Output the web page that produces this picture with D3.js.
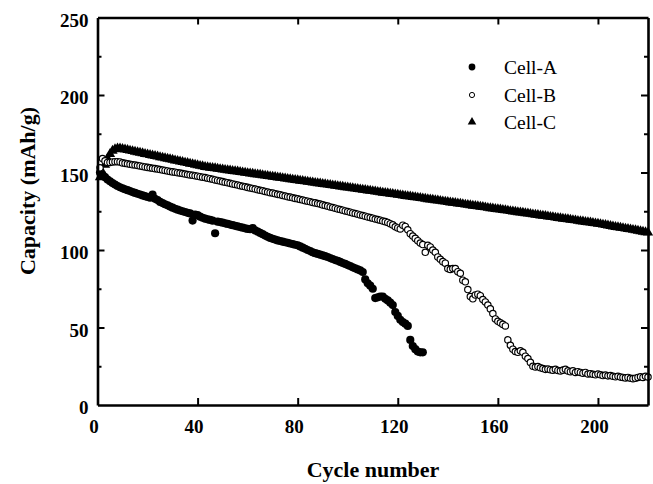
<!DOCTYPE html>
<html><head><meta charset="utf-8">
<script src="https://cdn.jsdelivr.net/npm/d3@7"></script>
<style>
html,body{margin:0;padding:0;background:#fff;}
svg{display:block;}
</style></head>
<body>
<svg id="chart" width="653" height="484"></svg>
<script>
const xTicks = [0, 40, 80, 120, 160, 200];
const yTicks = [0, 50, 100, 150, 200, 250];
const yMinorTicks = [25, 75, 125, 175, 225];
const seriesNames = ["Cell-A", "Cell-B", "Cell-C"];

// Capacity (mAh/g) per cycle, starting at cycle 1
const cellA = [150,148.5,147,145.5,144.3,143.2,142.2,141.3,140.5,139.8,
139.2,138.6,138.0,137.4,136.8,136.3,135.8,135.2,134.7,134.2,
133.7,135.8,133.0,132.2,131.0,130.3,129.5,128.8,128.0,127.3,
126.6,126.0,125.5,125.0,124.5,124.0,123.6,119.0,122.8,122.5,
121.5,120.8,120.2,119.8,119.4,118.9,110.8,118.3,118.0,117.6,
117.2,116.8,116.4,116.0,115.6,115.2,114.8,114.4,114.0,113.6,
113.4,114.2,112.6,111.8,111.0,110.2,109.3,108.5,107.8,107.2,
106.7,106.2,105.8,105.4,105.0,104.6,104.2,103.8,103.4,103.0,
102.3,101.5,100.8,100.0,99.3,98.5,98.0,97.5,97.0,96.5,
96.0,95.5,94.8,94.2,93.5,93.0,92.3,91.6,91.0,90.3,
89.6,88.8,88.2,87.5,86.8,85.8,81.0,78.5,77.0,75.0,
69.0,69.5,70.0,70.0,68.5,67.5,66.0,64.5,60.0,57.5,
55.0,53.5,52.5,51.0,42.0,38.0,36.0,34.5,34.0,34.0];

const cellB = [153,159,157.5,156.5,156.5,156.8,157,157,156.8,156.2,
155.9,155.6,155.3,155.0,154.8,154.5,154.2,153.9,153.6,153.3,
153.0,152.7,152.5,152.2,151.9,151.6,151.3,151.0,150.7,150.4,
150.2,149.9,149.6,149.3,149.0,148.7,148.4,148.2,147.9,147.6,
147.3,147.0,146.7,146.3,146.0,145.6,145.2,144.9,144.5,144.1,
143.7,143.4,143.0,142.6,142.3,141.9,141.5,141.1,140.8,140.4,
140.0,139.7,139.3,138.9,138.5,138.2,137.8,137.4,137.0,136.7,
136.3,135.9,135.6,135.2,134.8,134.4,134.1,133.7,133.3,133.0,
132.6,132.2,131.8,131.5,131.1,130.7,130.4,130.0,129.6,129.1,
128.7,128.3,127.8,127.4,127.0,126.5,126.1,125.7,125.2,124.8,
124.4,123.9,123.5,123.1,122.6,122.2,121.8,121.3,120.9,120.5,
120.0,119.6,119.2,118.7,118.3,117.8,117.0,116.2,115.0,114.2,
113.6,116.0,115.2,113.0,110.5,109.0,107.5,106.0,104.5,103.5,
98.5,103.0,102.0,100.0,98.5,95.5,94.0,92.5,91.5,88.0,
87.5,88.0,88.0,86.0,85.0,80.5,79.5,74.5,70.0,68.5,
71.0,71.5,70.5,68.0,66.5,64.5,62.0,59.0,55.5,54.0,
53.0,52.0,51.0,42.0,38.5,36.0,34.5,34.0,35.0,34.0,
31.5,30.0,27.5,25.0,24.5,24.8,24.0,23.5,23.0,23.2,
22.8,22.5,23.0,22.3,22.0,22.5,23.0,22.0,21.5,22.0,
21.0,21.5,21.0,20.5,21.0,20.0,20.2,19.8,19.5,20.0,
19.5,19.0,19.3,18.8,19.0,18.5,18.2,18.5,18.0,17.8,
17.5,17.8,17.2,17.0,17.3,17.8,18.2,17.8,18.5,18.0];

const cellC = [147,150,155,159,162,164,165,165.5,165.5,165.2,
164.8,164.5,164.1,163.8,163.4,163.1,162.7,162.4,162.0,161.7,
161.3,161.0,160.6,160.3,159.9,159.6,159.2,158.9,158.5,158.2,
157.8,157.5,157.1,156.8,156.4,156.1,155.7,155.4,155.0,154.7,
154.3,154.0,153.6,153.4,153.1,152.9,152.7,152.4,152.2,152.0,
151.7,151.5,151.3,151.0,150.8,150.6,150.3,150.1,149.9,149.6,
149.4,149.2,148.9,148.7,148.5,148.2,148.0,147.8,147.5,147.3,
147.1,146.8,146.6,146.4,146.1,145.9,145.7,145.4,145.2,145.0,
144.7,144.5,144.3,144.0,143.8,143.6,143.3,143.1,142.9,142.6,
142.4,142.2,141.9,141.7,141.5,141.2,141.0,140.8,140.5,140.3,
140.1,139.8,139.6,139.4,139.1,138.9,138.7,138.4,138.2,138.0,
137.7,137.5,137.3,137.0,136.8,136.6,136.3,136.1,135.9,135.6,
135.4,135.2,134.9,134.7,134.5,134.2,134.0,133.8,133.5,133.3,
133.1,132.8,132.6,132.4,132.1,131.9,131.7,131.4,131.2,131.0,
130.7,130.5,130.3,130.0,129.8,129.6,129.3,129.1,128.9,128.6,
128.4,128.2,127.9,127.7,127.5,127.2,127.0,126.8,126.5,126.3,
126.1,125.8,125.6,125.4,125.1,124.9,124.7,124.4,124.2,124.0,
123.7,123.5,123.3,123.0,122.8,122.6,122.3,122.1,121.9,121.6,
121.4,121.2,120.9,120.7,120.5,120.2,120.0,119.8,119.5,119.3,
119.1,118.8,118.6,118.4,118.1,117.9,117.7,117.4,117.2,117.0,
116.7,116.4,116.1,115.8,115.5,115.2,114.9,114.7,114.4,114.1,
113.8,113.5,113.3,113.0,112.7,112.4,112.1,111.8,111.5,111.2];

const svg = d3.select("#chart");
const x = d3.scaleLinear().domain([0, 220]).range([97.5, 648]);
const y = d3.scaleLinear().domain([0, 250]).range([405, 17.5]);
const serif = "'Liberation Serif','Times New Roman',serif";

function toPts(arr){ return arr.map((v,i)=>({c:i+1, v:v})); }

// data
const triSym = d3.symbol().type(d3.symbolTriangle).size(46);
svg.append("g").selectAll("path").data(toPts(cellC)).join("path")
  .attr("d", triSym)
  .attr("transform", d=>`translate(${x(d.c)},${y(d.v)})`)
  .attr("fill", "#000");

svg.append("g").selectAll("circle").data(toPts(cellA)).join("circle")
  .attr("cx", d=>x(d.c)).attr("cy", d=>y(d.v)).attr("r", 4.1)
  .attr("fill", "#000");

svg.append("g").selectAll("circle").data(toPts(cellB)).join("circle")
  .attr("cx", d=>x(d.c)).attr("cy", d=>y(d.v)).attr("r", 3.2)
  .attr("fill", "#fff").attr("stroke", "#000").attr("stroke-width", 1.15);

// axes
function styleAxis(g){
  g.select(".domain").attr("stroke-width", 2.6).attr("stroke","#000");
  g.selectAll(".tick line").attr("stroke-width", 2).attr("stroke","#000");
  g.selectAll("text").attr("font-family", serif).attr("font-weight","bold")
   .attr("font-size", 19).attr("fill","#000");
}
const gB = svg.append("g").attr("transform","translate(0,405)")
  .call(d3.axisBottom(x).tickValues(xTicks).tickSizeInner(-7).tickSizeOuter(0).tickPadding(15));
styleAxis(gB);
gB.selectAll("text").attr("dx", -4);
gB.selectAll(".tick").filter(d=>d===0).select("line").remove();

const gT = svg.append("g").attr("transform","translate(0,17.5)")
  .call(d3.axisTop(x).tickValues(xTicks.filter(d=>d>0)).tickSizeInner(-7).tickSizeOuter(0).tickFormat(""));
styleAxis(gT);

const gL = svg.append("g").attr("transform","translate(97.5,0)")
  .call(d3.axisLeft(y).tickValues(yTicks).tickSizeInner(-7).tickSizeOuter(0).tickPadding(9));
styleAxis(gL);
gL.selectAll("text").attr("dy", "0.45em");
gL.selectAll(".tick").filter(d=>d===0 || d===250).select("line").remove();
const gLm = svg.append("g").attr("transform","translate(97.5,0)")
  .call(d3.axisLeft(y).tickValues(yMinorTicks).tickSizeInner(-4).tickSizeOuter(0).tickFormat(""));
styleAxis(gLm); gLm.select(".domain").remove();

const gR = svg.append("g").attr("transform","translate(648,0)")
  .call(d3.axisRight(y).tickValues(yTicks.filter(d=>d>0&&d<250)).tickSizeInner(-7).tickSizeOuter(0).tickFormat(""));
styleAxis(gR);
const gRm = svg.append("g").attr("transform","translate(648,0)")
  .call(d3.axisRight(y).tickValues(yMinorTicks).tickSizeInner(-4).tickSizeOuter(0).tickFormat(""));
styleAxis(gRm); gRm.select(".domain").remove();

// axis titles
svg.append("text").attr("x", 373).attr("y", 477).attr("text-anchor","middle")
  .attr("font-family", serif).attr("font-weight","bold").attr("font-size", 22)
  .text("Cycle number");
svg.append("text").attr("transform","translate(35,191) rotate(-90)").attr("text-anchor","middle")
  .attr("font-family", serif).attr("font-weight","bold").attr("font-size", 22)
  .text("Capacity (mAh/g)");

// legend
const legY = [67, 95, 122];
const leg = svg.append("g");
leg.append("circle").attr("cx",472).attr("cy",legY[0]).attr("r",3.4).attr("fill","#000");
leg.append("circle").attr("cx",472).attr("cy",legY[1]).attr("r",2.6).attr("fill","#fff").attr("stroke","#000").attr("stroke-width",1);
leg.append("path").attr("d", d3.symbol().type(d3.symbolTriangle).size(32)).attr("transform",`translate(472,${legY[2]})`).attr("fill","#000");
leg.selectAll("text").data(seriesNames).join("text")
  .attr("x", 504).attr("y", (d,i)=>legY[i]+6.5)
  .attr("font-family", serif).attr("font-size", 19.5).attr("fill","#000")
  .text(d=>d);
</script>
</body></html>
